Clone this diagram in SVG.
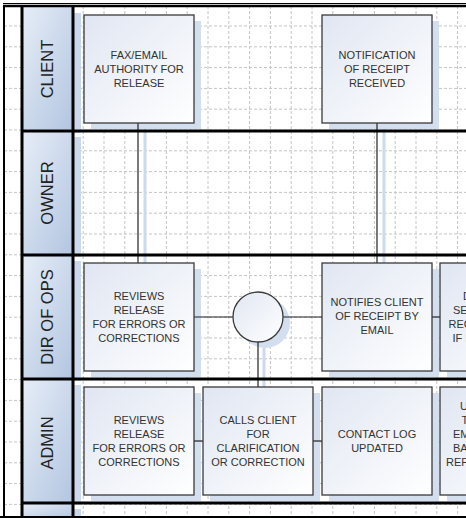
<svg xmlns="http://www.w3.org/2000/svg" width="466" height="518" viewBox="0 0 466 518">
<defs>
<linearGradient id="hdr" x1="0" y1="0" x2="1" y2="1">
<stop offset="0" stop-color="#e6edf7"/>
<stop offset="1" stop-color="#b3c6e1"/>
</linearGradient>
<linearGradient id="box" x1="0" y1="0" x2="1" y2="1">
<stop offset="0" stop-color="#e0e6f2"/>
<stop offset="1" stop-color="#ffffff"/>
</linearGradient>
</defs>
<style>
.grid{stroke:#c4c4c4;stroke-width:1;stroke-dasharray:3,2;fill:none}
.hdr{fill:url(#hdr)}
.hsh{fill:#cbd8eb}
.sh{fill:#d3deef}
.box{fill:url(#box);stroke:#3a3a3a;stroke-width:1.3}
.frame{stroke:#000;fill:none}
.conn{stroke:#222;stroke-width:1.2;fill:none}
.csh{stroke:#cdd9ec;stroke-width:3;fill:none}
.lbl{font-family:"Liberation Sans",Arial,sans-serif;font-size:16.5px;fill:#222;text-anchor:middle}
.t{font-family:"Liberation Sans",Arial,sans-serif;font-size:11px;fill:#333;text-anchor:middle}
.tp{font-family:"Liberation Sans",Arial,sans-serif;font-size:11px;fill:#333}
</style>
<rect x="0" y="0" width="466" height="518" fill="#fff"/>
<path class="grid" d="M4 26H466M4 46.8H466M4 67.6H466M4 88.4H466M4 109.2H466M4 130H466M4 150.8H466M4 171.6H466M4 192.4H466M4 213.2H466M4 234H466M4 254.8H466M4 275.6H466M4 296.4H466M4 317.2H466M4 338H466M4 358.8H466M4 379.6H466M4 400.4H466M4 421.2H466M4 442H466M4 462.8H466M4 483.6H466M4 504.4H466
M83.2 6V518M104 6V518M124.8 6V518M145.6 6V518M166.4 6V518M187.2 6V518M208 6V518M228.8 6V518M249.6 6V518M270.4 6V518M291.2 6V518M312 6V518M332.8 6V518M353.6 6V518M374.4 6V518M395.2 6V518M416 6V518M436.8 6V518M457.6 6V518"/>
<g id="lane-headers-shadow">
<rect class="hsh" x="30" y="13" width="51" height="120"/>
<rect class="hsh" x="30" y="137" width="51" height="120"/>
<rect class="hsh" x="30" y="261" width="51" height="120"/>
<rect class="hsh" x="30" y="385" width="51" height="120"/>
<rect class="hsh" x="30" y="509" width="51" height="12"/>
</g>
<g id="lane-client">
<rect class="hdr" x="23" y="7" width="49" height="122"/>
<text class="lbl" transform="translate(53,69) rotate(-90)">CLIENT</text>
</g>
<g id="lane-owner">
<rect class="hdr" x="23" y="132" width="49" height="122"/>
<text class="lbl" transform="translate(53,193) rotate(-90)">OWNER</text>
</g>
<g id="lane-dirofops">
<rect class="hdr" x="23" y="256" width="49" height="122"/>
<text class="lbl" transform="translate(53,317) rotate(-90)">DIR OF OPS</text>
</g>
<g id="lane-admin">
<rect class="hdr" x="23" y="380" width="49" height="122"/>
<text class="lbl" transform="translate(53,443) rotate(-90)">ADMIN</text>
</g>
<g id="lane-next">
<rect class="hdr" x="23" y="504" width="49" height="14"/>
</g>
<g id="shadows">
<rect class="sh" x="91" y="21" width="110" height="108"/>
<rect class="sh" x="329" y="21" width="110" height="108"/>
<rect class="sh" x="91" y="269" width="110" height="108"/>
<circle class="sh" cx="265" cy="323" r="25"/>
<rect class="sh" x="329" y="269" width="110" height="108"/>
<rect class="sh" x="447" y="269" width="110" height="108"/>
<rect class="sh" x="91" y="393" width="110" height="108"/>
<rect class="sh" x="210" y="393" width="110" height="108"/>
<rect class="sh" x="329" y="393" width="110" height="108"/>
<rect class="sh" x="447" y="393" width="110" height="108"/>
<path class="csh" d="M145 129V269M384 129V269M264 348V393"/>
</g>
<g id="connectors">
<path class="conn" d="M138 123V263"/>
<path class="conn" d="M377 123V263"/>
<path class="conn" d="M194 317H233"/>
<path class="conn" d="M283 317H322"/>
<path class="conn" d="M432 317H440"/>
<path class="conn" d="M258 342V387"/>
<path class="conn" d="M194 441H203"/>
<path class="conn" d="M313 441H322"/>
</g>
<g id="node-fax-email">
<rect class="box" x="84" y="15" width="110" height="108"/>
<text class="t" x="139" y="59">FAX/EMAIL</text>
<text class="t" x="139" y="73">AUTHORITY FOR</text>
<text class="t" x="139" y="87">RELEASE</text>
</g>
<g id="node-notification-received">
<rect class="box" x="322" y="15" width="110" height="108"/>
<text class="t" x="377" y="58.5">NOTIFICATION</text>
<text class="t" x="377" y="72.5">OF RECEIPT</text>
<text class="t" x="377" y="86.5">RECEIVED</text>
</g>
<g id="node-dir-reviews">
<rect class="box" x="84" y="263" width="110" height="108"/>
<text class="t" x="139" y="299.5">REVIEWS</text>
<text class="t" x="139" y="313.5">RELEASE</text>
<text class="t" x="139" y="327.5">FOR ERRORS OR</text>
<text class="t" x="139" y="341.5">CORRECTIONS</text>
</g>
<g id="node-decision">
<circle class="box" cx="258" cy="317" r="25"/>
</g>
<g id="node-notifies-client">
<rect class="box" x="322" y="263" width="110" height="108"/>
<text class="t" x="377" y="306">NOTIFIES CLIENT</text>
<text class="t" x="377" y="320">OF RECEIPT BY</text>
<text class="t" x="377" y="334">EMAIL</text>
</g>
<g id="node-dir-next">
<rect class="box" x="440" y="263" width="110" height="108"/>
<text class="tp" x="463" y="299.5">D</text>
<text class="tp" x="453" y="313.5">SE</text>
<text class="tp" x="448.5" y="327.5">REC</text>
<text class="tp" x="452.5" y="341.5">IF I</text>
</g>
<g id="node-admin-reviews">
<rect class="box" x="84" y="387" width="110" height="108"/>
<text class="t" x="139" y="423.5">REVIEWS</text>
<text class="t" x="139" y="437.5">RELEASE</text>
<text class="t" x="139" y="451.5">FOR ERRORS OR</text>
<text class="t" x="139" y="465.5">CORRECTIONS</text>
</g>
<g id="node-calls-client">
<rect class="box" x="203" y="387" width="110" height="108"/>
<text class="t" x="258" y="423.5">CALLS CLIENT</text>
<text class="t" x="258" y="437.5">FOR</text>
<text class="t" x="258" y="451.5">CLARIFICATION</text>
<text class="t" x="258" y="465.5">OR CORRECTION</text>
</g>
<g id="node-contact-log">
<rect class="box" x="322" y="387" width="110" height="108"/>
<text class="t" x="377" y="437.5">CONTACT LOG</text>
<text class="t" x="377" y="451.5">UPDATED</text>
</g>
<g id="node-admin-next">
<rect class="box" x="440" y="387" width="110" height="108"/>
<text class="tp" x="460" y="409.5">U</text>
<text class="tp" x="461.5" y="423.5">T</text>
<text class="tp" x="453" y="437.5">EM</text>
<text class="tp" x="453" y="451.5">BA</text>
<text class="tp" x="446" y="465.5">REP</text>
</g>
<g id="frame">
<path class="frame" stroke-width="1" d="M3 3.5H466"/>
<path class="frame" stroke-width="2.5" d="M3 6H466"/>
<path class="frame" stroke-width="2" d="M4 5V518"/>
<path class="frame" stroke-width="3" d="M22 5V518M73 5V518"/>
<path class="frame" stroke-width="3" d="M21 131H466M21 255H466M21 379H466M21 503H466"/>
<path class="frame" stroke-width="2" stroke="#333" d="M0 517H466"/>
</g>
</svg>
